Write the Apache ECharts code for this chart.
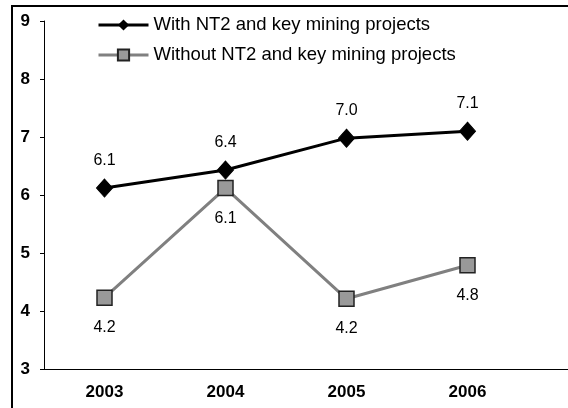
<!DOCTYPE html>
<html>
<head>
<meta charset="utf-8">
<script src="https://cdn.jsdelivr.net/npm/echarts@6/dist/echarts.min.js"></script>
<style>
  html, body { margin: 0; padding: 0; background: #fff; }
  #chart { width: 568px; height: 408px; }
</style>
</head>
<body>
<div id="chart"></div>
<script>
const years = ['2003', '2004', '2005', '2006']
const withProjects = [6.12, 6.43, 6.98, 7.1]
const withoutProjects = [4.23, 6.12, 4.21, 4.79]
const seriesNames = ['With NT2 and key mining projects', 'Without NT2 and key mining projects']

const font = 'Arial, "Liberation Sans", sans-serif'
const chart = echarts.init(document.getElementById('chart'))

chart.setOption({
  animation: false,
  backgroundColor: '#fff',
  grid: {
    left: 44,
    top: 21,
    width: 484,
    height: 348
  },
  legend: {
    orient: 'vertical',
    left: 92,
    top: 9,
    itemWidth: 50,
    itemHeight: 14,
    itemGap: 8,
    lineStyle: { width: 3 },
    textStyle: {
      fontFamily: font,
      fontSize: 18.5,
      color: '#000',
      lineHeight: 22
    },
    data: seriesNames
  },
  graphic: [
    {
      type: 'rect',
      shape: { x: 12, y: 6, width: 700, height: 500 },
      style: { fill: 'none', stroke: '#000', lineWidth: 2 },
      silent: true
    },
    {
      type: 'line',
      shape: { x1: 528, y1: 369.5, x2: 570, y2: 369.5 },
      style: { stroke: '#000', lineWidth: 1 },
      silent: true
    }
  ],
  xAxis: {
    type: 'category',
    data: years,
    boundaryGap: true,
    axisLine: { lineStyle: { color: '#000', width: 1 } },
    axisTick: { length: 5, lineStyle: { color: '#000' } },
    axisLabel: {
      margin: 15,
      color: '#000',
      fontFamily: font,
      fontWeight: 'bold',
      fontSize: 17
    }
  },
  yAxis: {
    type: 'value',
    min: 3,
    max: 9,
    interval: 1,
    splitLine: { show: false },
    axisLine: { show: true, lineStyle: { color: '#000', width: 1 } },
    axisTick: { show: true, length: 4, lineStyle: { color: '#000' } },
    axisLabel: {
      margin: 14,
      color: '#000',
      fontFamily: font,
      fontWeight: 'bold',
      fontSize: 17
    }
  },
  series: [
    {
      name: seriesNames[0],
      type: 'line',
      data: withProjects,
      symbol: 'diamond',
      symbolSize: [16, 18],
      lineStyle: { color: '#000', width: 3 },
      itemStyle: { color: '#000', borderColor: '#000' },
      label: {
        show: true,
        position: 'top',
        distance: 10,
        color: '#000',
        fontFamily: font,
        fontSize: 16,
        formatter: p => p.value.toFixed(1)
      },
      z: 3
    },
    {
      name: seriesNames[1],
      type: 'line',
      data: withoutProjects,
      symbol: 'rect',
      symbolSize: 15,
      lineStyle: { color: '#808080', width: 3 },
      itemStyle: { color: '#999999', borderColor: '#222', borderWidth: 1.5 },
      label: {
        show: true,
        position: 'bottom',
        distance: 14,
        color: '#000',
        fontFamily: font,
        fontSize: 16,
        formatter: p => p.value.toFixed(1)
      },
      z: 2
    }
  ]
})
</script>
</body>
</html>
